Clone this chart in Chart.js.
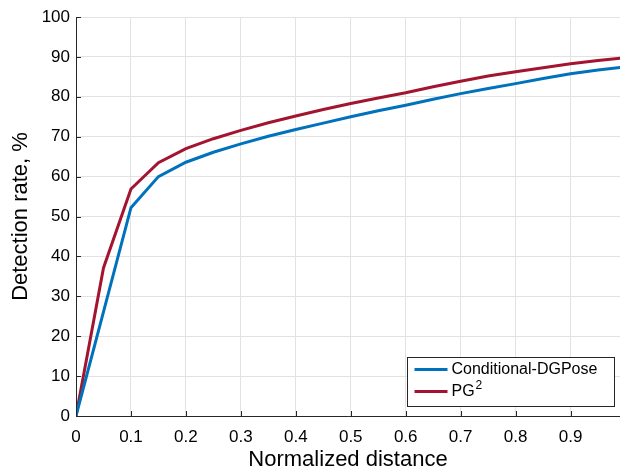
<!DOCTYPE html>
<html>
<head>
<meta charset="utf-8">
<script src="https://cdn.jsdelivr.net/npm/chart.js@4"></script>
<style>
  html, body { margin: 0; padding: 0; background: #fff; }
  #wrap { width: 620px; height: 467px; }
</style>
</head>
<body>
<div id="wrap"><canvas id="chart"></canvas></div>
<script>
const distance = [0, 0.05, 0.1, 0.15, 0.2, 0.25, 0.3, 0.35, 0.4, 0.45, 0.5, 0.55, 0.6, 0.65, 0.7, 0.75, 0.8, 0.85, 0.9, 0.95, 1.0];
const dgpose = [0, 26.1, 52.2, 60.0, 63.6, 66.1, 68.2, 70.1, 71.8, 73.4, 75.0, 76.5, 77.9, 79.4, 80.8, 82.1, 83.3, 84.6, 85.8, 86.7, 87.5];
const pg2 = [0, 37.1, 56.9, 63.5, 67.0, 69.5, 71.6, 73.5, 75.2, 76.8, 78.3, 79.7, 81.0, 82.5, 83.9, 85.2, 86.3, 87.3, 88.3, 89.1, 89.8];
const xTicks = [0, 0.1, 0.2, 0.3, 0.4, 0.5, 0.6, 0.7, 0.8, 0.9];
const yTicks = [0, 10, 20, 30, 40, 50, 60, 70, 80, 90, 100];

const FONT = "'Liberation Sans', Arial, sans-serif";
const BLUE = "#0072BD";
const RED = "#A2142F";

// MATLAB style: ticks pointing inward + legend box inside the axes
const matlabAxes = {
  id: "matlabAxes",
  afterDatasetsDraw(c) {
    const g = c.ctx, a = c.chartArea;
    const xs = c.scales.x, ys = c.scales.y;
    g.save();
    g.strokeStyle = "#262626";
    g.lineWidth = 1;
    g.beginPath();
    g.moveTo(a.left + 0.5, a.top);
    g.lineTo(a.left + 0.5, a.bottom + 0.5);
    g.lineTo(a.right, a.bottom + 0.5);
    xTicks.forEach(v => {
      const px = Math.round(xs.getPixelForValue(v)) + 0.5;
      g.moveTo(px, a.bottom);
      g.lineTo(px, a.bottom - 5);
    });
    yTicks.forEach(v => {
      const py = Math.round(ys.getPixelForValue(v)) + 0.5;
      g.moveTo(a.left, py);
      g.lineTo(a.left + 5, py);
    });
    g.stroke();

    // legend
    const bx = 407.5, by = 357.5, bw = 207, bh = 49;
    g.fillStyle = "#fff";
    g.fillRect(bx, by, bw, bh);
    g.strokeStyle = "#262626";
    g.strokeRect(bx, by, bw, bh);
    g.lineWidth = 3;
    c.data.datasets.forEach((ds, i) => {
      const ly = by + 12 + i * 22;
      g.strokeStyle = ds.borderColor;
      g.beginPath();
      g.moveTo(bx + 7, ly);
      g.lineTo(bx + 40, ly);
      g.stroke();
      g.fillStyle = "#000";
      g.textBaseline = "middle";
      g.font = "16px " + FONT;
      const parts = ds.label.split("^");
      g.fillText(parts[0], bx + 44, ly);
      if (parts[1]) {
        const w = g.measureText(parts[0]).width;
        g.font = "12px " + FONT;
        g.fillText(parts[1], bx + 44 + w + 1, ly - 6);
      }
    });
    g.restore();
  }
};

const ctx = document.getElementById("chart").getContext("2d");
const chart = new Chart(ctx, {
  type: "line",
  data: {
    datasets: [
      {
        label: "Conditional-DGPose",
        data: distance.map((x, i) => ({ x, y: dgpose[i] })),
        borderColor: BLUE,
        borderWidth: 3,
        pointRadius: 0,
        tension: 0
      },
      {
        label: "PG^2",
        data: distance.map((x, i) => ({ x, y: pg2[i] })),
        borderColor: RED,
        borderWidth: 3,
        pointRadius: 0,
        tension: 0
      }
    ]
  },
  options: {
    responsive: true,
    maintainAspectRatio: false,
    animation: false,
    layout: { padding: { top: 17, right: 0, left: 0, bottom: 0 } },
    plugins: { legend: { display: false }, tooltip: { enabled: false } },
    scales: {
      x: {
        type: "linear",
        min: 0,
        max: 0.99,
        afterBuildTicks: s => { s.ticks = xTicks.map(v => ({ value: v })); },
        afterFit: s => { s.height = 51; },
        grid: { color: "#e2e2e2", drawTicks: false },
        border: { display: false },
        ticks: {
          color: "#000",
          padding: 11,
          font: { family: FONT, size: 17 },
          callback: v => String(Math.round(v * 10) / 10)
        },
        title: {
          display: true,
          text: "Normalized distance",
          color: "#000",
          padding: { top: 0, bottom: -6 },
          font: { family: FONT, size: 22 }
        }
      },
      y: {
        min: 0,
        max: 100,
        afterBuildTicks: s => { s.ticks = yTicks.map(v => ({ value: v })); },
        afterFit: s => { s.width = 76; },
        grid: { color: "#e2e2e2", drawTicks: false },
        border: { display: false },
        ticks: {
          color: "#000",
          padding: 6,
          font: { family: FONT, size: 17 }
        },
        title: {
          display: true,
          text: "Detection rate, %",
          color: "#000",
          padding: { top: 8, bottom: 0 },
          font: { family: FONT, size: 22 }
        }
      }
    }
  },
  plugins: [matlabAxes]
});
</script>
</body>
</html>
